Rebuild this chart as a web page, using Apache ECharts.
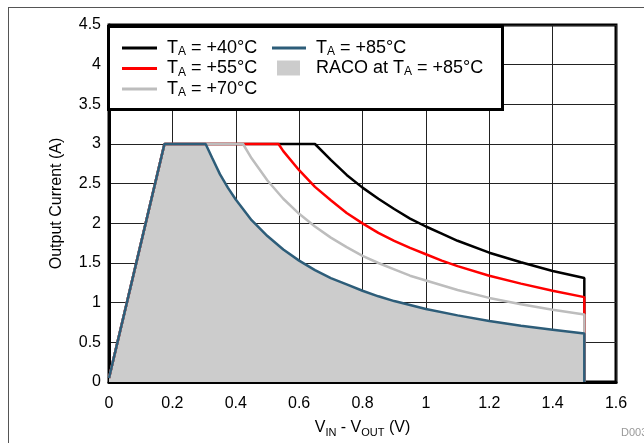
<!DOCTYPE html>
<html>
<head>
<meta charset="utf-8">
<script src="https://cdn.jsdelivr.net/npm/echarts@6/dist/echarts.min.js"></script>
<style>
  html, body { margin: 0; padding: 0; background: #fff; }
  #chart { width: 644px; height: 443px; }
</style>
</head>
<body>
<div id="chart"></div>
<script>
// values: V_IN - V_OUT (V) and output current (A)
var x40 = [0, 0.175, 0.65, 0.7, 0.75, 0.8, 0.85, 0.9, 0.95, 1.0, 1.05, 1.1, 1.2, 1.3, 1.4, 1.5, 1.5];
var y40 = [0.05, 3, 3, 2.8, 2.61, 2.45, 2.31, 2.18, 2.06, 1.96, 1.87, 1.78, 1.63, 1.51, 1.4, 1.31, 0];

var x55 = [0, 0.175, 0.535, 0.55, 0.6, 0.65, 0.7, 0.75, 0.8, 0.85, 0.9, 0.95, 1.0, 1.05, 1.1, 1.2, 1.3, 1.4, 1.5, 1.5];
var y55 = [0.05, 3, 3, 2.91, 2.67, 2.46, 2.29, 2.13, 2.0, 1.88, 1.78, 1.69, 1.61, 1.53, 1.46, 1.34, 1.24, 1.15, 1.07, 0];

var x70 = [0, 0.175, 0.423, 0.45, 0.5, 0.55, 0.6, 0.65, 0.7, 0.75, 0.8, 0.85, 0.9, 0.95, 1.0, 1.05, 1.1, 1.2, 1.3, 1.4, 1.5, 1.5];
var y70 = [0.05, 3, 3, 2.82, 2.54, 2.31, 2.12, 1.96, 1.82, 1.7, 1.59, 1.5, 1.42, 1.34, 1.28, 1.22, 1.16, 1.06, 0.98, 0.91, 0.85, 0];

var x85 = [0, 0.175, 0.305, 0.325, 0.35, 0.375, 0.4, 0.45, 0.5, 0.55, 0.6, 0.65, 0.7, 0.75, 0.8, 0.85, 0.9, 0.95, 1.0, 1.1, 1.2, 1.3, 1.4, 1.5, 1.5];
var y85 = [0.05, 3, 3, 2.83, 2.62, 2.45, 2.3, 2.04, 1.84, 1.67, 1.53, 1.41, 1.31, 1.23, 1.15, 1.08, 1.02, 0.97, 0.92, 0.84, 0.77, 0.71, 0.66, 0.61, 0];

var xTicks = [0, 1.6, 0.2];
var yTicks = [0, 4.5, 0.5];

var names = ['T_A = +40°C', 'T_A = +55°C', 'T_A = +70°C', 'T_A = +85°C', 'RACO at T_A = +85°C'];

function pairs(xs, ys){
    var out = [];
    for (var i = 0; i < xs.length; i++) { out.push([xs[i], ys[i]]); }
    return out;
}
function legendFmt(name){
    return name.replace('T_A', 'T{s|A}');
}
var font = 'Liberation Sans, Arial, sans-serif';
var legendText = {
    fontFamily: font,
    fontSize: 18,
    lineHeight: 20,
    color: '#000',
    padding: [0, 0, 0, 5],
    rich: {
        s: { fontSize: 12, lineHeight: 12, verticalAlign: 'bottom', fontFamily: font }
    }
};

var myChart = echarts.init(document.getElementById('chart'));
var option = {
    animation: false,
    backgroundColor: '#fff',
    textStyle: { fontFamily: font },
    grid: { left: 109, right: 28, top: 25, bottom: 59, show: true, borderColor: '#000', borderWidth: 3 },
    xAxis: {
        type: 'value', min: xTicks[0], max: xTicks[1], interval: xTicks[2],
        name: 'V{s|IN} - V{s|OUT} (V)', nameLocation: 'middle', nameGap: 36,
        nameTextStyle: {
            fontSize: 16, color: '#000', lineHeight: 20,
            rich: { s: { fontSize: 11, lineHeight: 11, verticalAlign: 'bottom' } }
        },
        axisLine: { show: true, lineStyle: { color: '#000', width: 3 } },
        axisTick: { show: false },
        axisLabel: { fontSize: 16, color: '#000', margin: 14 },
        splitLine: { lineStyle: { color: '#222', width: 1 } }
    },
    yAxis: {
        type: 'value', min: yTicks[0], max: yTicks[1], interval: yTicks[2],
        name: 'Output Current (A)', nameLocation: 'middle', nameGap: 44,
        nameTextStyle: { fontSize: 16, color: '#000' },
        axisLine: { show: true, lineStyle: { color: '#000', width: 3 } },
        axisTick: { show: false },
        axisLabel: { fontSize: 16, color: '#000', margin: 8 },
        splitLine: { lineStyle: { color: '#222', width: 1 } }
    },
    legend: [
        {
            data: [names[0], names[1], names[2]], orient: 'vertical', left: 122, top: 38,
            padding: 0, itemGap: 0.5, itemWidth: 35, itemHeight: 3, icon: 'rect',
            formatter: legendFmt, textStyle: legendText, z: 5
        },
        {
            data: [names[3]], orient: 'vertical', left: 272, top: 38,
            padding: 0, itemWidth: 34, itemHeight: 3, icon: 'rect',
            formatter: legendFmt, textStyle: legendText, z: 5
        },
        {
            data: [{ name: names[4], icon: 'rect' }], orient: 'vertical', left: 277, top: 58,
            padding: 0, itemWidth: 23, itemHeight: 15,
            formatter: legendFmt,
            textStyle: Object.assign({}, legendText, { padding: [0, 0, 0, 11] }), z: 5
        }
    ],
    graphic: [
        { type: 'rect', z: 3, shape: { x: 108.5, y: 26.5, width: 394, height: 83 },
          style: { fill: '#fff', stroke: '#000', lineWidth: 3 } },
        { type: 'line', z: 3, shape: { x1: 8, y1: 7.5, x2: 644, y2: 7.5 },
          style: { stroke: '#555', lineWidth: 1 } },
        { type: 'line', z: 3, shape: { x1: 8.5, y1: 7, x2: 8.5, y2: 443 },
          style: { stroke: '#555', lineWidth: 1 } },
        { type: 'text', z: 3, left: 621, top: 427,
          style: { text: 'D003', fill: '#999', fontSize: 11, fontFamily: font } }
    ],
    series: [
        {
            name: names[4], type: 'line', symbol: 'none', data: pairs(x85, y85),
            lineStyle: { width: 0, opacity: 0 }, itemStyle: { color: '#cccccc' },
            areaStyle: { color: '#cccccc', opacity: 1 }, z: 1
        },
        { name: names[0], type: 'line', symbol: 'none', data: pairs(x40, y40),
          lineStyle: { color: '#000', width: 2.5 }, itemStyle: { color: '#000' } },
        { name: names[1], type: 'line', symbol: 'none', data: pairs(x55, y55),
          lineStyle: { color: '#ff0000', width: 2.5 }, itemStyle: { color: '#ff0000' } },
        { name: names[2], type: 'line', symbol: 'none', data: pairs(x70, y70),
          lineStyle: { color: '#bdbdbd', width: 2.5 }, itemStyle: { color: '#bdbdbd' } },
        { name: names[3], type: 'line', symbol: 'none', data: pairs(x85, y85),
          lineStyle: { color: '#2d5d79', width: 2.5 }, itemStyle: { color: '#2d5d79' } }
    ]
};
myChart.setOption(option);
</script>
</body>
</html>
